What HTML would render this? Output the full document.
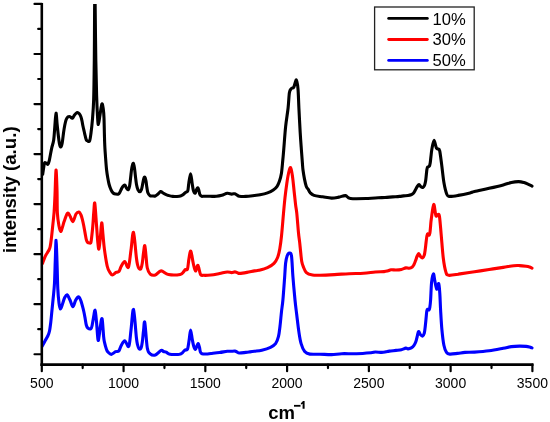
<!DOCTYPE html>
<html><head><meta charset="utf-8"><style>
html,body{margin:0;padding:0;background:#fff;}
body{width:550px;height:422px;overflow:hidden;}
svg{display:block;font-family:"Liberation Sans",sans-serif;will-change:transform;}
</style></head><body>
<svg width="550" height="422" viewBox="0 0 550 422">
<rect width="550" height="422" fill="#fff"/>
<defs><clipPath id="pc"><rect x="42" y="4" width="500" height="360"/></clipPath></defs><g clip-path="url(#pc)">
<path d="M42.70,174.20 C42.87,173.08 43.38,169.40 43.70,167.50 C44.02,165.60 44.13,163.50 44.60,162.80 C45.07,162.10 45.93,163.07 46.50,163.30 C47.07,163.53 47.55,164.60 48.00,164.20 C48.45,163.80 48.82,162.40 49.20,160.90 C49.58,159.40 49.87,157.42 50.30,155.20 C50.73,152.98 51.23,150.13 51.80,147.60 C52.37,145.07 53.20,143.43 53.70,140.00 C54.20,136.57 54.42,131.48 54.80,127.00 C55.18,122.52 55.60,113.43 56.00,113.10 C56.40,112.77 56.78,121.02 57.20,125.00 C57.62,128.98 58.10,133.75 58.50,137.00 C58.90,140.25 59.22,142.83 59.60,144.50 C59.98,146.17 60.37,147.25 60.80,147.00 C61.23,146.75 61.75,145.33 62.20,143.00 C62.65,140.67 63.07,136.00 63.50,133.00 C63.93,130.00 64.35,127.25 64.80,125.00 C65.25,122.75 65.65,120.87 66.20,119.50 C66.75,118.13 67.47,117.28 68.10,116.80 C68.73,116.32 69.28,116.35 70.00,116.60 C70.72,116.85 71.65,118.57 72.40,118.30 C73.15,118.03 73.70,115.95 74.50,115.00 C75.30,114.05 76.40,112.80 77.20,112.60 C78.00,112.40 78.68,113.12 79.30,113.80 C79.92,114.48 80.45,115.50 80.90,116.70 C81.35,117.90 81.65,119.40 82.00,121.00 C82.35,122.60 82.63,124.55 83.00,126.30 C83.37,128.05 83.83,129.90 84.20,131.50 C84.57,133.10 84.85,134.52 85.20,135.90 C85.55,137.28 85.92,138.97 86.30,139.80 C86.68,140.63 86.95,140.72 87.50,140.90 C88.05,141.08 89.02,142.22 89.60,140.90 C90.18,139.58 90.53,136.48 91.00,133.00 C91.47,129.52 91.96,125.50 92.40,120.00 C92.84,114.50 93.33,110.00 93.65,100.00 C93.97,90.00 94.14,75.00 94.30,60.00 C94.46,45.00 94.52,21.33 94.60,10.00 C94.68,-1.33 94.73,-5.00 94.80,-8.00 C94.87,-11.00 94.93,-11.00 95.00,-8.00 C95.07,-5.00 95.07,-1.33 95.20,10.00 C95.33,21.33 95.57,45.83 95.80,60.00 C96.03,74.17 96.32,85.67 96.60,95.00 C96.88,104.33 97.20,111.08 97.50,116.00 C97.80,120.92 97.98,124.67 98.40,124.50 C98.82,124.33 99.42,118.42 100.00,115.00 C100.58,111.58 101.35,104.97 101.90,104.00 C102.45,103.03 102.95,106.87 103.30,109.20 C103.65,111.53 103.82,113.87 104.00,118.00 C104.18,122.13 104.27,129.33 104.40,134.00 C104.53,138.67 104.60,142.00 104.80,146.00 C105.00,150.00 105.30,154.00 105.60,158.00 C105.90,162.00 106.23,166.67 106.60,170.00 C106.97,173.33 107.40,175.67 107.80,178.00 C108.20,180.33 108.55,182.25 109.00,184.00 C109.45,185.75 110.00,187.23 110.50,188.50 C111.00,189.77 111.48,190.78 112.00,191.60 C112.52,192.42 113.02,193.00 113.60,193.40 C114.18,193.80 114.70,193.90 115.50,194.00 C116.30,194.10 117.65,194.33 118.40,194.00 C119.15,193.67 119.52,192.80 120.00,192.00 C120.48,191.20 120.80,190.17 121.30,189.20 C121.80,188.23 122.40,186.87 123.00,186.20 C123.60,185.53 124.30,184.87 124.90,185.20 C125.50,185.53 126.02,187.45 126.60,188.20 C127.18,188.95 127.90,190.07 128.40,189.70 C128.90,189.33 129.23,187.95 129.60,186.00 C129.97,184.05 130.23,181.00 130.60,178.00 C130.97,175.00 131.33,170.45 131.80,168.00 C132.27,165.55 132.93,163.13 133.40,163.30 C133.87,163.47 134.27,166.88 134.60,169.00 C134.93,171.12 135.08,173.42 135.40,176.00 C135.72,178.58 136.07,182.20 136.50,184.50 C136.93,186.80 137.43,188.58 138.00,189.80 C138.57,191.02 139.35,191.77 139.90,191.80 C140.45,191.83 140.88,191.05 141.30,190.00 C141.72,188.95 142.00,187.33 142.40,185.50 C142.80,183.67 143.28,180.40 143.70,179.00 C144.12,177.60 144.52,176.77 144.90,177.10 C145.28,177.43 145.68,179.35 146.00,181.00 C146.32,182.65 146.48,185.03 146.80,187.00 C147.12,188.97 147.37,191.35 147.90,192.80 C148.43,194.25 149.23,195.17 150.00,195.70 C150.77,196.23 151.62,195.95 152.50,196.00 C153.38,196.05 154.38,196.33 155.30,196.00 C156.22,195.67 157.10,194.73 158.00,194.00 C158.90,193.27 159.87,191.77 160.70,191.60 C161.53,191.43 162.27,192.58 163.00,193.00 C163.73,193.42 164.18,193.68 165.10,194.10 C166.02,194.52 167.23,195.12 168.50,195.50 C169.77,195.88 170.90,196.28 172.70,196.40 C174.50,196.52 177.78,196.38 179.30,196.20 C180.82,196.02 181.08,195.63 181.80,195.30 C182.52,194.97 182.93,194.72 183.60,194.20 C184.27,193.68 185.10,192.77 185.80,192.20 C186.50,191.63 187.30,192.30 187.80,190.80 C188.30,189.30 188.33,186.05 188.80,183.20 C189.27,180.35 190.05,173.73 190.60,173.70 C191.15,173.67 191.63,180.20 192.10,183.00 C192.57,185.80 192.88,188.80 193.40,190.50 C193.92,192.20 194.67,193.37 195.20,193.20 C195.73,193.03 196.15,190.40 196.60,189.50 C197.05,188.60 197.50,187.55 197.90,187.80 C198.30,188.05 198.65,189.83 199.00,191.00 C199.35,192.17 199.50,193.92 200.00,194.80 C200.50,195.68 201.45,196.05 202.00,196.30 C202.55,196.55 201.97,196.30 203.30,196.30 C204.63,196.30 207.82,196.30 210.00,196.30 C212.18,196.30 214.43,196.47 216.40,196.30 C218.37,196.13 219.98,195.80 221.80,195.30 C223.62,194.80 225.67,193.50 227.30,193.30 C228.93,193.10 230.33,194.03 231.60,194.10 C232.87,194.17 233.97,193.52 234.90,193.70 C235.83,193.88 236.47,194.78 237.20,195.20 C237.93,195.62 237.87,196.00 239.30,196.20 C240.73,196.40 243.27,196.52 245.80,196.40 C248.33,196.28 252.13,195.77 254.50,195.50 C256.87,195.23 257.83,195.23 260.00,194.80 C262.17,194.37 265.28,193.70 267.50,192.90 C269.72,192.10 271.70,191.10 273.30,190.00 C274.90,188.90 276.07,187.80 277.10,186.30 C278.13,184.80 278.78,183.13 279.50,181.00 C280.22,178.87 280.85,177.00 281.40,173.50 C281.95,170.00 282.42,163.92 282.80,160.00 C283.18,156.08 283.23,155.52 283.70,150.00 C284.17,144.48 284.87,133.90 285.60,126.90 C286.33,119.90 287.47,113.68 288.10,108.00 C288.73,102.32 288.87,96.03 289.40,92.80 C289.93,89.57 290.57,89.55 291.30,88.60 C292.03,87.65 292.95,88.55 293.80,87.10 C294.65,85.65 295.70,79.58 296.40,79.90 C297.10,80.22 297.58,84.32 298.00,89.00 C298.42,93.68 298.53,100.73 298.90,108.00 C299.27,115.27 299.78,125.60 300.20,132.60 C300.62,139.60 301.03,144.92 301.40,150.00 C301.77,155.08 302.13,159.77 302.40,163.10 C302.67,166.43 302.65,167.33 303.00,170.00 C303.35,172.67 303.95,176.35 304.50,179.10 C305.05,181.85 305.68,184.80 306.30,186.50 C306.92,188.20 307.58,188.30 308.20,189.30 C308.82,190.30 309.03,191.48 310.00,192.50 C310.97,193.52 311.88,194.68 314.00,195.40 C316.12,196.12 319.77,196.35 322.70,196.80 C325.63,197.25 328.90,198.05 331.60,198.10 C334.30,198.15 336.58,197.52 338.90,197.10 C341.22,196.68 343.57,195.37 345.50,195.60 C347.43,195.83 346.75,198.02 350.50,198.50 C354.25,198.98 363.38,198.62 368.00,198.50 C372.62,198.38 375.37,197.97 378.20,197.80 C381.03,197.63 382.58,197.65 385.00,197.50 C387.42,197.35 390.28,197.08 392.70,196.90 C395.12,196.72 397.68,196.57 399.50,196.40 C401.32,196.23 402.18,196.05 403.60,195.90 C405.02,195.75 406.77,195.68 408.00,195.50 C409.23,195.32 410.10,195.17 411.00,194.80 C411.90,194.43 412.63,194.18 413.40,193.30 C414.17,192.42 414.95,190.63 415.60,189.50 C416.25,188.37 416.73,187.32 417.30,186.50 C417.87,185.68 418.38,184.55 419.00,184.60 C419.62,184.65 420.37,186.32 421.00,186.80 C421.63,187.28 422.22,187.72 422.80,187.50 C423.38,187.28 424.03,186.58 424.50,185.50 C424.97,184.42 425.30,182.75 425.60,181.00 C425.90,179.25 426.08,176.92 426.30,175.00 C426.52,173.08 426.67,170.83 426.90,169.50 C427.13,168.17 427.30,167.53 427.70,167.00 C428.10,166.47 428.88,166.97 429.30,166.30 C429.72,165.63 429.93,164.55 430.20,163.00 C430.47,161.45 430.62,159.33 430.90,157.00 C431.18,154.67 431.38,151.77 431.90,149.00 C432.42,146.23 433.25,140.57 434.00,140.40 C434.75,140.23 435.68,146.57 436.40,148.00 C437.12,149.43 437.75,148.52 438.30,149.00 C438.85,149.48 439.15,148.38 439.70,150.90 C440.25,153.42 440.88,158.73 441.60,164.10 C442.32,169.47 443.12,178.03 444.00,183.10 C444.88,188.17 445.95,192.28 446.90,194.50 C447.85,196.72 447.82,196.25 449.70,196.40 C451.58,196.55 454.82,195.98 458.20,195.40 C461.58,194.82 467.28,193.55 470.00,192.90 C472.72,192.25 471.32,192.27 474.50,191.50 C477.68,190.73 484.32,189.40 489.10,188.30 C493.88,187.20 499.48,185.88 503.20,184.90 C506.92,183.92 508.82,182.95 511.40,182.40 C513.98,181.85 516.60,181.57 518.70,181.60 C520.80,181.63 522.38,182.13 524.00,182.60 C525.62,183.07 527.07,183.82 528.40,184.40 C529.73,184.98 531.40,185.82 532.00,186.10" fill="none" stroke="#000" stroke-width="3.1" stroke-linejoin="round" stroke-linecap="round"/>
<path d="M42.50,263.50 C42.92,262.38 44.17,258.63 45.00,256.80 C45.83,254.97 46.83,253.63 47.50,252.50 C48.17,251.37 48.55,251.00 49.00,250.00 C49.45,249.00 49.82,248.33 50.20,246.50 C50.58,244.67 50.92,242.08 51.30,239.00 C51.68,235.92 52.03,232.50 52.50,228.00 C52.97,223.50 53.68,217.50 54.10,212.00 C54.52,206.50 54.68,202.00 55.00,195.00 C55.32,188.00 55.67,170.83 56.00,170.00 C56.33,169.17 56.77,182.78 57.00,190.00 C57.23,197.22 57.07,207.30 57.40,213.30 C57.73,219.30 58.45,222.97 59.00,226.00 C59.55,229.03 60.12,231.33 60.70,231.50 C61.28,231.67 61.93,228.65 62.50,227.00 C63.07,225.35 63.28,223.88 64.10,221.60 C64.92,219.32 66.42,214.23 67.40,213.30 C68.38,212.37 69.08,214.62 70.00,216.00 C70.92,217.38 71.90,221.93 72.90,221.60 C73.90,221.27 74.98,215.60 76.00,214.00 C77.02,212.40 78.17,211.83 79.00,212.00 C79.83,212.17 80.43,213.73 81.00,215.00 C81.57,216.27 81.93,217.77 82.40,219.60 C82.87,221.43 83.37,223.83 83.80,226.00 C84.23,228.17 84.58,230.33 85.00,232.60 C85.42,234.87 85.87,237.97 86.30,239.60 C86.73,241.23 87.07,241.83 87.60,242.40 C88.13,242.97 88.95,242.98 89.50,243.00 C90.05,243.02 90.52,243.67 90.90,242.50 C91.28,241.33 91.48,238.75 91.80,236.00 C92.12,233.25 92.47,230.00 92.80,226.00 C93.13,222.00 93.47,215.78 93.80,212.00 C94.13,208.22 94.35,201.13 94.80,203.30 C95.25,205.47 96.00,218.55 96.50,225.00 C97.00,231.45 97.40,238.00 97.80,242.00 C98.20,246.00 98.48,249.67 98.90,249.00 C99.32,248.33 99.83,242.35 100.30,238.00 C100.77,233.65 101.25,223.40 101.70,222.90 C102.15,222.40 102.55,230.63 103.00,235.00 C103.45,239.37 103.68,243.85 104.40,249.10 C105.12,254.35 106.37,262.60 107.30,266.50 C108.23,270.40 109.15,271.08 110.00,272.50 C110.85,273.92 111.40,275.02 112.40,275.00 C113.40,274.98 114.92,272.97 116.00,272.40 C117.08,271.83 118.05,272.58 118.90,271.60 C119.75,270.62 120.13,268.18 121.10,266.50 C122.07,264.82 123.48,261.37 124.70,261.50 C125.92,261.63 127.35,269.22 128.40,267.30 C129.45,265.38 130.15,255.82 131.00,250.00 C131.85,244.18 132.60,231.10 133.50,232.40 C134.40,233.70 135.72,252.37 136.40,257.80 C137.08,263.23 137.17,263.22 137.60,265.00 C138.03,266.78 138.45,267.90 139.00,268.50 C139.55,269.10 140.35,269.52 140.90,268.60 C141.45,267.68 141.87,265.60 142.30,263.00 C142.73,260.40 143.08,255.92 143.50,253.00 C143.92,250.08 144.38,245.00 144.80,245.50 C145.22,246.00 145.58,252.25 146.00,256.00 C146.42,259.75 146.60,264.98 147.30,268.00 C148.00,271.02 148.87,272.93 150.20,274.10 C151.53,275.27 153.48,275.53 155.30,275.00 C157.12,274.47 158.92,270.98 161.10,270.90 C163.28,270.82 165.22,273.92 168.40,274.50 C171.58,275.08 177.63,274.90 180.20,274.40 C182.77,273.90 182.95,272.30 183.80,271.50 C184.65,270.70 184.68,270.02 185.30,269.60 C185.92,269.18 186.90,270.75 187.50,269.00 C188.10,267.25 188.35,262.08 188.90,259.10 C189.45,256.12 190.07,250.37 190.80,251.10 C191.53,251.83 192.52,260.18 193.30,263.50 C194.08,266.82 194.73,270.70 195.50,271.00 C196.27,271.30 197.07,264.73 197.90,265.30 C198.73,265.87 199.57,272.73 200.50,274.40 C201.43,276.07 201.77,275.20 203.50,275.30 C205.23,275.40 208.22,275.30 210.90,275.00 C213.58,274.70 216.87,274.00 219.60,273.50 C222.33,273.00 225.30,272.15 227.30,272.00 C229.30,271.85 230.33,272.62 231.60,272.60 C232.87,272.58 233.92,271.87 234.90,271.90 C235.88,271.93 236.68,272.55 237.50,272.80 C238.32,273.05 238.23,273.47 239.80,273.40 C241.37,273.33 244.45,272.82 246.90,272.40 C249.35,271.98 252.53,271.25 254.50,270.90 C256.47,270.55 256.53,270.85 258.70,270.30 C260.87,269.75 264.95,268.77 267.50,267.60 C270.05,266.43 272.32,264.98 274.00,263.30 C275.68,261.62 276.63,259.93 277.60,257.50 C278.57,255.07 279.15,252.28 279.80,248.70 C280.45,245.12 280.88,241.88 281.50,236.00 C282.12,230.12 282.92,219.78 283.50,213.40 C284.08,207.02 284.45,202.68 285.00,197.70 C285.55,192.72 286.22,187.53 286.80,183.50 C287.38,179.47 287.87,176.17 288.50,173.50 C289.13,170.83 289.93,167.02 290.60,167.50 C291.27,167.98 291.90,172.32 292.50,176.40 C293.10,180.48 293.68,187.27 294.20,192.00 C294.72,196.73 295.17,201.23 295.60,204.80 C296.03,208.37 296.32,208.70 296.80,213.40 C297.28,218.10 298.02,228.12 298.50,233.00 C298.98,237.88 299.30,239.12 299.70,242.70 C300.10,246.28 300.55,251.32 300.90,254.50 C301.25,257.68 301.43,259.85 301.80,261.80 C302.17,263.75 302.33,264.40 303.10,266.20 C303.87,268.00 304.83,271.13 306.40,272.60 C307.97,274.07 310.23,274.57 312.50,275.00 C314.77,275.43 316.33,275.27 320.00,275.20 C323.67,275.13 329.65,274.85 334.50,274.60 C339.35,274.35 344.25,273.93 349.10,273.70 C353.95,273.47 359.23,273.48 363.60,273.20 C367.97,272.92 371.90,272.27 375.30,272.00 C378.70,271.73 381.97,271.77 384.00,271.60 C386.03,271.43 386.32,271.30 387.50,271.00 C388.68,270.70 389.68,269.97 391.10,269.80 C392.52,269.63 394.28,270.07 396.00,270.00 C397.72,269.93 399.77,269.75 401.40,269.40 C403.03,269.05 404.52,268.08 405.80,267.90 C407.08,267.72 408.02,268.45 409.10,268.30 C410.18,268.15 411.48,267.63 412.30,267.00 C413.12,266.37 413.45,265.58 414.00,264.50 C414.55,263.42 415.07,261.92 415.60,260.50 C416.13,259.08 416.68,257.17 417.20,256.00 C417.72,254.83 418.15,253.42 418.70,253.50 C419.25,253.58 419.85,255.78 420.50,256.50 C421.15,257.22 421.97,258.05 422.60,257.80 C423.23,257.55 423.85,256.47 424.30,255.00 C424.75,253.53 425.00,251.17 425.30,249.00 C425.60,246.83 425.83,244.17 426.10,242.00 C426.37,239.83 426.63,237.37 426.90,236.00 C427.17,234.63 427.35,233.92 427.70,233.80 C428.05,233.68 428.63,235.43 429.00,235.30 C429.37,235.17 429.63,234.55 429.90,233.00 C430.17,231.45 430.37,228.33 430.60,226.00 C430.83,223.67 430.78,222.58 431.30,219.00 C431.82,215.42 432.93,205.07 433.70,204.50 C434.47,203.93 435.18,213.93 435.90,215.60 C436.62,217.27 437.40,214.32 438.00,214.50 C438.60,214.68 438.97,213.32 439.50,216.70 C440.03,220.08 440.57,227.87 441.20,234.80 C441.83,241.73 442.52,252.08 443.30,258.30 C444.08,264.52 445.00,269.27 445.90,272.10 C446.80,274.93 446.63,274.95 448.70,275.30 C450.77,275.65 456.42,274.43 458.30,274.20 C460.18,273.97 457.30,274.30 460.00,273.90 C462.70,273.50 469.65,272.53 474.50,271.80 C479.35,271.07 484.32,270.23 489.10,269.50 C493.88,268.77 499.08,268.03 503.20,267.40 C507.32,266.77 511.08,266.00 513.80,265.70 C516.52,265.40 517.45,265.50 519.50,265.60 C521.55,265.70 524.43,266.07 526.10,266.30 C527.77,266.53 528.52,266.70 529.50,267.00 C530.48,267.30 531.58,267.92 532.00,268.10" fill="none" stroke="#f00" stroke-width="3.1" stroke-linejoin="round" stroke-linecap="round"/>
<path d="M42.10,346.30 C42.58,345.42 44.02,342.80 45.00,341.00 C45.98,339.20 47.25,337.17 48.00,335.50 C48.75,333.83 49.03,333.25 49.50,331.00 C49.97,328.75 50.38,325.50 50.80,322.00 C51.22,318.50 51.58,314.17 52.00,310.00 C52.42,305.83 52.88,301.50 53.30,297.00 C53.72,292.50 54.17,289.17 54.50,283.00 C54.83,276.83 55.03,267.12 55.30,260.00 C55.57,252.88 55.82,239.97 56.10,240.30 C56.38,240.63 56.72,253.95 57.00,262.00 C57.28,270.05 57.47,281.77 57.80,288.60 C58.13,295.43 58.57,299.60 59.00,303.00 C59.43,306.40 59.82,308.83 60.40,309.00 C60.98,309.17 61.82,305.83 62.50,304.00 C63.18,302.17 63.75,299.53 64.50,298.00 C65.25,296.47 66.08,294.47 67.00,294.80 C67.92,295.13 69.02,298.02 70.00,300.00 C70.98,301.98 71.98,306.62 72.90,306.70 C73.82,306.78 74.73,302.03 75.50,300.50 C76.27,298.97 76.90,298.05 77.50,297.50 C78.10,296.95 78.55,296.70 79.10,297.20 C79.65,297.70 80.25,299.05 80.80,300.50 C81.35,301.95 81.90,304.07 82.40,305.90 C82.90,307.73 83.37,309.55 83.80,311.50 C84.23,313.45 84.58,315.35 85.00,317.60 C85.42,319.85 85.83,323.27 86.30,325.00 C86.77,326.73 87.03,327.38 87.80,328.00 C88.57,328.62 90.17,329.20 90.90,328.70 C91.63,328.20 91.77,326.85 92.20,325.00 C92.63,323.15 93.02,320.05 93.50,317.60 C93.98,315.15 94.60,309.57 95.10,310.30 C95.60,311.03 96.02,317.08 96.50,322.00 C96.98,326.92 97.57,337.47 98.00,339.80 C98.43,342.13 98.70,338.30 99.10,336.00 C99.50,333.70 99.90,328.87 100.40,326.00 C100.90,323.13 101.57,317.07 102.10,318.80 C102.63,320.53 103.22,332.55 103.60,336.40 C103.98,340.25 103.92,339.72 104.40,341.90 C104.88,344.08 105.90,347.82 106.50,349.50 C107.10,351.18 107.20,351.18 108.00,352.00 C108.80,352.82 110.03,354.45 111.30,354.40 C112.57,354.35 114.33,352.28 115.60,351.70 C116.87,351.12 117.98,351.88 118.90,350.90 C119.82,349.92 120.13,347.50 121.10,345.80 C122.07,344.10 123.42,340.62 124.70,340.70 C125.98,340.78 127.75,348.08 128.80,346.30 C129.85,344.52 130.22,336.13 131.00,330.00 C131.78,323.87 132.60,308.20 133.50,309.50 C134.40,310.80 135.72,331.88 136.40,337.80 C137.08,343.72 137.17,343.20 137.60,345.00 C138.03,346.80 138.45,348.03 139.00,348.60 C139.55,349.17 140.35,349.50 140.90,348.40 C141.45,347.30 141.87,344.90 142.30,342.00 C142.73,339.10 143.08,334.25 143.50,331.00 C143.92,327.75 144.17,319.67 144.80,322.50 C145.43,325.33 146.40,342.78 147.30,348.00 C148.20,353.22 148.87,352.63 150.20,353.80 C151.53,354.97 153.48,355.57 155.30,355.00 C157.12,354.43 159.73,350.98 161.10,350.40 C162.47,349.82 162.65,351.20 163.50,351.50 C164.35,351.80 165.12,351.73 166.20,352.20 C167.28,352.67 168.03,353.92 170.00,354.30 C171.97,354.68 176.25,354.55 178.00,354.50 C179.75,354.45 179.73,354.32 180.50,354.00 C181.27,353.68 181.85,353.28 182.60,352.60 C183.35,351.92 184.18,350.48 185.00,349.90 C185.82,349.32 186.80,350.82 187.50,349.10 C188.20,347.38 188.68,342.78 189.20,339.60 C189.72,336.42 190.08,330.00 190.60,330.00 C191.12,330.00 191.77,336.85 192.30,339.60 C192.83,342.35 193.28,344.85 193.80,346.50 C194.32,348.15 194.88,349.58 195.40,349.50 C195.92,349.42 196.42,346.97 196.90,346.00 C197.38,345.03 197.87,343.45 198.30,343.70 C198.73,343.95 199.15,346.12 199.50,347.50 C199.85,348.88 199.98,350.97 200.40,352.00 C200.82,353.03 201.00,353.37 202.00,353.70 C203.00,354.03 204.90,354.03 206.40,354.00 C207.90,353.97 208.80,353.75 211.00,353.50 C213.20,353.25 216.88,352.87 219.60,352.50 C222.32,352.13 225.40,351.50 227.30,351.30 C229.20,351.10 229.73,351.33 231.00,351.30 C232.27,351.27 233.90,350.98 234.90,351.10 C235.90,351.22 236.27,351.68 237.00,352.00 C237.73,352.32 237.83,352.93 239.30,353.00 C240.77,353.07 244.02,352.58 245.80,352.40 C247.58,352.22 248.55,352.08 250.00,351.90 C251.45,351.72 252.53,351.58 254.50,351.30 C256.47,351.02 259.13,350.87 261.80,350.20 C264.47,349.53 268.20,348.40 270.50,347.30 C272.80,346.20 274.27,345.42 275.60,343.60 C276.93,341.78 277.77,339.30 278.50,336.40 C279.23,333.50 279.50,330.33 280.00,326.20 C280.50,322.07 281.02,315.97 281.50,311.60 C281.98,307.23 282.38,305.63 282.90,300.00 C283.42,294.37 284.15,283.92 284.60,277.80 C285.05,271.68 285.18,266.93 285.60,263.30 C286.02,259.67 286.48,257.70 287.10,256.00 C287.72,254.30 288.57,253.10 289.30,253.10 C290.03,253.10 290.90,252.12 291.50,256.00 C292.10,259.88 292.32,269.07 292.90,276.40 C293.48,283.73 294.37,293.65 295.00,300.00 C295.63,306.35 296.05,309.17 296.70,314.50 C297.35,319.83 298.17,327.15 298.90,332.00 C299.63,336.85 300.13,340.33 301.10,343.60 C302.07,346.87 303.25,349.85 304.70,351.60 C306.15,353.35 307.25,353.67 309.80,354.10 C312.35,354.53 316.37,354.12 320.00,354.20 C323.63,354.28 327.97,354.68 331.60,354.60 C335.23,354.52 337.67,353.85 341.80,353.70 C345.93,353.55 351.55,353.87 356.40,353.70 C361.25,353.53 367.75,352.98 370.90,352.70 C374.05,352.42 373.48,352.05 375.30,352.00 C377.12,351.95 380.02,352.43 381.80,352.40 C383.58,352.37 384.73,352.02 386.00,351.80 C387.27,351.58 387.73,351.33 389.40,351.10 C391.07,350.87 394.00,350.63 396.00,350.40 C398.00,350.17 399.77,350.08 401.40,349.70 C403.03,349.32 404.70,348.23 405.80,348.10 C406.90,347.97 407.08,348.93 408.00,348.90 C408.92,348.87 410.30,348.48 411.30,347.90 C412.30,347.32 413.23,346.47 414.00,345.40 C414.77,344.33 415.37,342.98 415.90,341.50 C416.43,340.02 416.77,338.17 417.20,336.50 C417.63,334.83 417.98,331.83 418.50,331.50 C419.02,331.17 419.62,333.73 420.30,334.50 C420.98,335.27 421.93,336.35 422.60,336.10 C423.27,335.85 423.85,334.68 424.30,333.00 C424.75,331.32 425.00,328.50 425.30,326.00 C425.60,323.50 425.85,320.50 426.10,318.00 C426.35,315.50 426.55,312.47 426.80,311.00 C427.05,309.53 427.23,309.37 427.60,309.20 C427.97,309.03 428.63,310.28 429.00,310.00 C429.37,309.72 429.53,309.17 429.80,307.50 C430.07,305.83 430.30,304.23 430.60,300.00 C430.90,295.77 431.13,286.47 431.60,282.10 C432.07,277.73 432.87,274.05 433.40,273.80 C433.93,273.55 434.25,278.03 434.80,280.60 C435.35,283.17 436.05,288.72 436.70,289.20 C437.35,289.68 438.18,282.80 438.70,283.50 C439.22,284.20 439.48,288.98 439.80,293.40 C440.12,297.82 440.25,303.97 440.60,310.00 C440.95,316.03 441.35,323.73 441.90,329.60 C442.45,335.47 443.13,341.40 443.90,345.20 C444.67,349.00 445.52,350.92 446.50,352.40 C447.48,353.88 447.95,353.93 449.80,354.10 C451.65,354.27 455.07,353.68 457.60,353.40 C460.13,353.12 462.18,352.62 465.00,352.40 C467.82,352.18 470.48,352.37 474.50,352.10 C478.52,351.83 484.32,351.43 489.10,350.80 C493.88,350.17 499.48,349.00 503.20,348.30 C506.92,347.60 508.68,346.97 511.40,346.60 C514.12,346.23 517.05,346.13 519.50,346.10 C521.95,346.07 524.43,346.25 526.10,346.40 C527.77,346.55 528.52,346.75 529.50,347.00 C530.48,347.25 531.58,347.75 532.00,347.90" fill="none" stroke="#00f" stroke-width="3.1" stroke-linejoin="round" stroke-linecap="round"/>
</g>
<line x1="41.8" y1="2.9" x2="41.8" y2="365.90000000000003" stroke="#000" stroke-width="2.6"/>
<line x1="40.5" y1="364.6" x2="533.5" y2="364.6" stroke="#000" stroke-width="2.6"/>
<line x1="34.5" y1="3.95" x2="41.8" y2="3.95" stroke="#000" stroke-width="2.2" stroke-linecap="round"/>
<line x1="38.2" y1="28.97" x2="41.8" y2="28.97" stroke="#000" stroke-width="2.2" stroke-linecap="round"/>
<line x1="34.5" y1="53.99" x2="41.8" y2="53.99" stroke="#000" stroke-width="2.2" stroke-linecap="round"/>
<line x1="38.2" y1="79.01" x2="41.8" y2="79.01" stroke="#000" stroke-width="2.2" stroke-linecap="round"/>
<line x1="34.5" y1="104.03" x2="41.8" y2="104.03" stroke="#000" stroke-width="2.2" stroke-linecap="round"/>
<line x1="38.2" y1="129.05" x2="41.8" y2="129.05" stroke="#000" stroke-width="2.2" stroke-linecap="round"/>
<line x1="34.5" y1="154.07" x2="41.8" y2="154.07" stroke="#000" stroke-width="2.2" stroke-linecap="round"/>
<line x1="38.2" y1="179.09" x2="41.8" y2="179.09" stroke="#000" stroke-width="2.2" stroke-linecap="round"/>
<line x1="34.5" y1="204.11" x2="41.8" y2="204.11" stroke="#000" stroke-width="2.2" stroke-linecap="round"/>
<line x1="38.2" y1="229.13" x2="41.8" y2="229.13" stroke="#000" stroke-width="2.2" stroke-linecap="round"/>
<line x1="34.5" y1="254.15" x2="41.8" y2="254.15" stroke="#000" stroke-width="2.2" stroke-linecap="round"/>
<line x1="38.2" y1="279.17" x2="41.8" y2="279.17" stroke="#000" stroke-width="2.2" stroke-linecap="round"/>
<line x1="34.5" y1="304.19" x2="41.8" y2="304.19" stroke="#000" stroke-width="2.2" stroke-linecap="round"/>
<line x1="38.2" y1="329.21" x2="41.8" y2="329.21" stroke="#000" stroke-width="2.2" stroke-linecap="round"/>
<line x1="34.5" y1="354.23" x2="41.8" y2="354.23" stroke="#000" stroke-width="2.2" stroke-linecap="round"/>
<line x1="41.80" y1="364.6" x2="41.80" y2="371.2" stroke="#000" stroke-width="2.2" stroke-linecap="round"/>
<line x1="82.68" y1="364.6" x2="82.68" y2="368.1" stroke="#000" stroke-width="2.2" stroke-linecap="round"/>
<line x1="123.57" y1="364.6" x2="123.57" y2="371.2" stroke="#000" stroke-width="2.2" stroke-linecap="round"/>
<line x1="164.45" y1="364.6" x2="164.45" y2="368.1" stroke="#000" stroke-width="2.2" stroke-linecap="round"/>
<line x1="205.33" y1="364.6" x2="205.33" y2="371.2" stroke="#000" stroke-width="2.2" stroke-linecap="round"/>
<line x1="246.22" y1="364.6" x2="246.22" y2="368.1" stroke="#000" stroke-width="2.2" stroke-linecap="round"/>
<line x1="287.10" y1="364.6" x2="287.10" y2="371.2" stroke="#000" stroke-width="2.2" stroke-linecap="round"/>
<line x1="327.98" y1="364.6" x2="327.98" y2="368.1" stroke="#000" stroke-width="2.2" stroke-linecap="round"/>
<line x1="368.87" y1="364.6" x2="368.87" y2="371.2" stroke="#000" stroke-width="2.2" stroke-linecap="round"/>
<line x1="409.75" y1="364.6" x2="409.75" y2="368.1" stroke="#000" stroke-width="2.2" stroke-linecap="round"/>
<line x1="450.63" y1="364.6" x2="450.63" y2="371.2" stroke="#000" stroke-width="2.2" stroke-linecap="round"/>
<line x1="491.52" y1="364.6" x2="491.52" y2="368.1" stroke="#000" stroke-width="2.2" stroke-linecap="round"/>
<line x1="532.40" y1="364.6" x2="532.40" y2="371.2" stroke="#000" stroke-width="2.2" stroke-linecap="round"/>
<text x="41.80" y="387.6" text-anchor="middle" font-size="14">500</text>
<text x="123.57" y="387.6" text-anchor="middle" font-size="14">1000</text>
<text x="205.33" y="387.6" text-anchor="middle" font-size="14">1500</text>
<text x="287.10" y="387.6" text-anchor="middle" font-size="14">2000</text>
<text x="368.87" y="387.6" text-anchor="middle" font-size="14">2500</text>
<text x="450.63" y="387.6" text-anchor="middle" font-size="14">3000</text>
<text x="532.40" y="387.6" text-anchor="middle" font-size="14">3500</text>
<text transform="translate(15.9,189.7) rotate(-90)" text-anchor="middle" font-size="18.7" font-weight="bold">intensity (a.u.)</text>
<text x="268.2" y="418.6" font-size="18.5" font-weight="bold">cm</text>
<rect x="294" y="404.9" width="6.5" height="1.8" fill="#000"/>
<path d="M302.6,408.7 L302.6,403.7 Q301.8,404.3 300.9,404.6 L300.9,403.1 Q302.2,402.5 302.9,401.1 L304.6,401.1 L304.6,408.7 Z" fill="#000"/>
<rect x="374.6" y="7.0" width="99.6" height="62.8" fill="#fff" stroke="#222" stroke-width="1.3"/>
<line x1="388.7" y1="18.4" x2="427.3" y2="18.4" stroke="#000" stroke-width="2.9" stroke-linecap="round"/>
<line x1="388.7" y1="39.5" x2="427.3" y2="39.5" stroke="#f00" stroke-width="2.9" stroke-linecap="round"/>
<line x1="388.7" y1="60.4" x2="427.3" y2="60.4" stroke="#00f" stroke-width="2.9" stroke-linecap="round"/>
<text x="432.6" y="24.5" font-size="16.6">10%</text>
<text x="432.6" y="45.4" font-size="16.6">30%</text>
<text x="432.6" y="66.2" font-size="16.6">50%</text>
</svg>
</body></html>
